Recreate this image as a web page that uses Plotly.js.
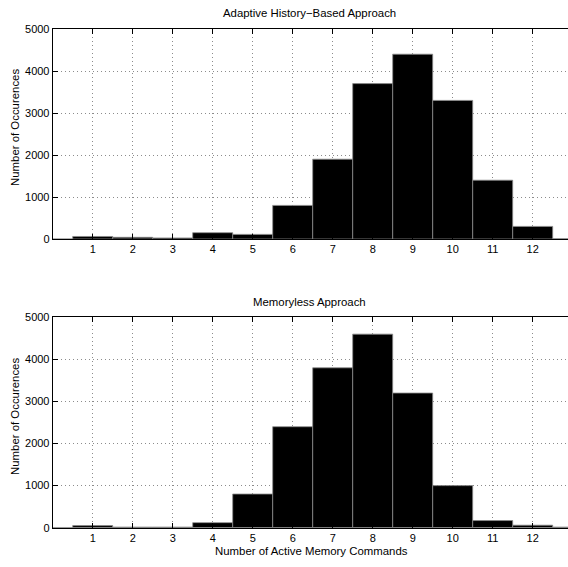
<!DOCTYPE html>
<html>
<head>
<meta charset="utf-8">
<script src="https://cdn.plot.ly/plotly-3.0.1.min.js"></script>
<style>
html, body { margin: 0; padding: 0; overflow: hidden; background: #fff; }
#chart { width: 580px; height: 567px; }
</style>
</head>
<body>
<div id="chart"></div>
<script>
// Data
const bins = [0, 1, 2, 3, 4, 5, 6, 7, 8, 9, 10, 11, 12, 13];
const adaptiveCounts = [0, 60, 40, 25, 150, 110, 800, 1900, 3700, 4400, 3300, 1400, 300, 5];
const memorylessCounts = [5, 50, 15, 15, 120, 800, 2400, 3800, 4600, 3200, 1000, 170, 60, 15];
const xTickVals = [1, 2, 3, 4, 5, 6, 7, 8, 9, 10, 11, 12];
const xTickText = ["1", "2", "3", "4", "5", "6", "7", "8", "9", "10", "11", "12"];
const topTitle = "Adaptive History\u2212Based Approach";
const bottomTitle = "Memoryless Approach";
const yTitle = "Number of Occurences";
const xTitle = "Number of Active Memory Commands";

const W = 580, H = 567;
const px = x => x / W;
const py = y => 1 - y / H;

const barStyle = {
  type: 'bar',
  width: 1,
  marker: { color: '#000000', line: { color: '#8a8a8a', width: 0.8 } },
  hoverinfo: 'x+y',
  showlegend: false
};

const data = [
  Object.assign({}, barStyle, { x: bins, y: adaptiveCounts, xaxis: 'x', yaxis: 'y' }),
  Object.assign({}, barStyle, { x: bins, y: memorylessCounts, xaxis: 'x2', yaxis: 'y2' })
];

const font = { family: 'Liberation Sans, Arial, Helvetica, sans-serif', size: 11, color: '#000' };

function xAxis(anchor) {
  return {
    domain: [px(52.7), px(572.7)],
    anchor: anchor,
    range: [0, 13],
    tickmode: 'array',
    tickvals: xTickVals,
    ticktext: xTickText,
    ticks: 'inside',
    ticklen: 5,
    tickcolor: '#000',
    showline: true,
    linecolor: '#000',
    linewidth: 1,
    mirror: 'ticks',
    showgrid: true,
    gridcolor: '#8c8c8c',
    griddash: '1px,3px',
    gridwidth: 1,
    zeroline: false,
    automargin: false,
    tickfont: font,
    fixedrange: true
  };
}
function yAxis(anchor, d) {
  return {
    domain: d,
    anchor: anchor,
    range: [0, 5000],
    tickmode: 'array',
    tickvals: [0, 1000, 2000, 3000, 4000, 5000],
    ticktext: ['0', '1000', '2000', '3000', '4000', '5000'],
    ticks: 'inside',
    ticklen: 5,
    tickcolor: '#000',
    showline: true,
    linecolor: '#000',
    linewidth: 1,
    mirror: 'ticks',
    showgrid: true,
    gridcolor: '#8c8c8c',
    griddash: '1px,3px',
    gridwidth: 1,
    zeroline: false,
    automargin: false,
    tickfont: font,
    fixedrange: true
  };
}

const annFont = { family: font.family, size: 11.4, color: '#000' };
const layout = {
  width: W,
  height: H,
  margin: { l: 0, r: 0, t: 0, b: 0, pad: 0 },
  paper_bgcolor: '#fff',
  plot_bgcolor: '#fff',
  bargap: 0,
  font: font,
  xaxis: xAxis('y'),
  yaxis: yAxis('x', [py(239), py(29)]),
  xaxis2: xAxis('y2'),
  yaxis2: yAxis('x2', [py(527.7), py(317.3)]),
  annotations: [
    { text: topTitle, xref: 'paper', yref: 'paper', x: px(309), y: py(13), showarrow: false, font: annFont, xanchor: 'center', yanchor: 'middle' },
    { text: bottomTitle, xref: 'paper', yref: 'paper', x: px(309), y: py(302), showarrow: false, font: annFont, xanchor: 'center', yanchor: 'middle' },
    { text: yTitle, xref: 'paper', yref: 'paper', x: px(15), y: py(128), textangle: -90, showarrow: false, font: annFont, xanchor: 'center', yanchor: 'middle' },
    { text: yTitle, xref: 'paper', yref: 'paper', x: px(15), y: py(417), textangle: -90, showarrow: false, font: annFont, xanchor: 'center', yanchor: 'middle' },
    { text: xTitle, xref: 'paper', yref: 'paper', x: px(311), y: py(551), showarrow: false, font: annFont, xanchor: 'center', yanchor: 'middle' }
  ]
};

Plotly.newPlot('chart', data, layout, { displayModeBar: false, staticPlot: true });
</script>
</body>
</html>
